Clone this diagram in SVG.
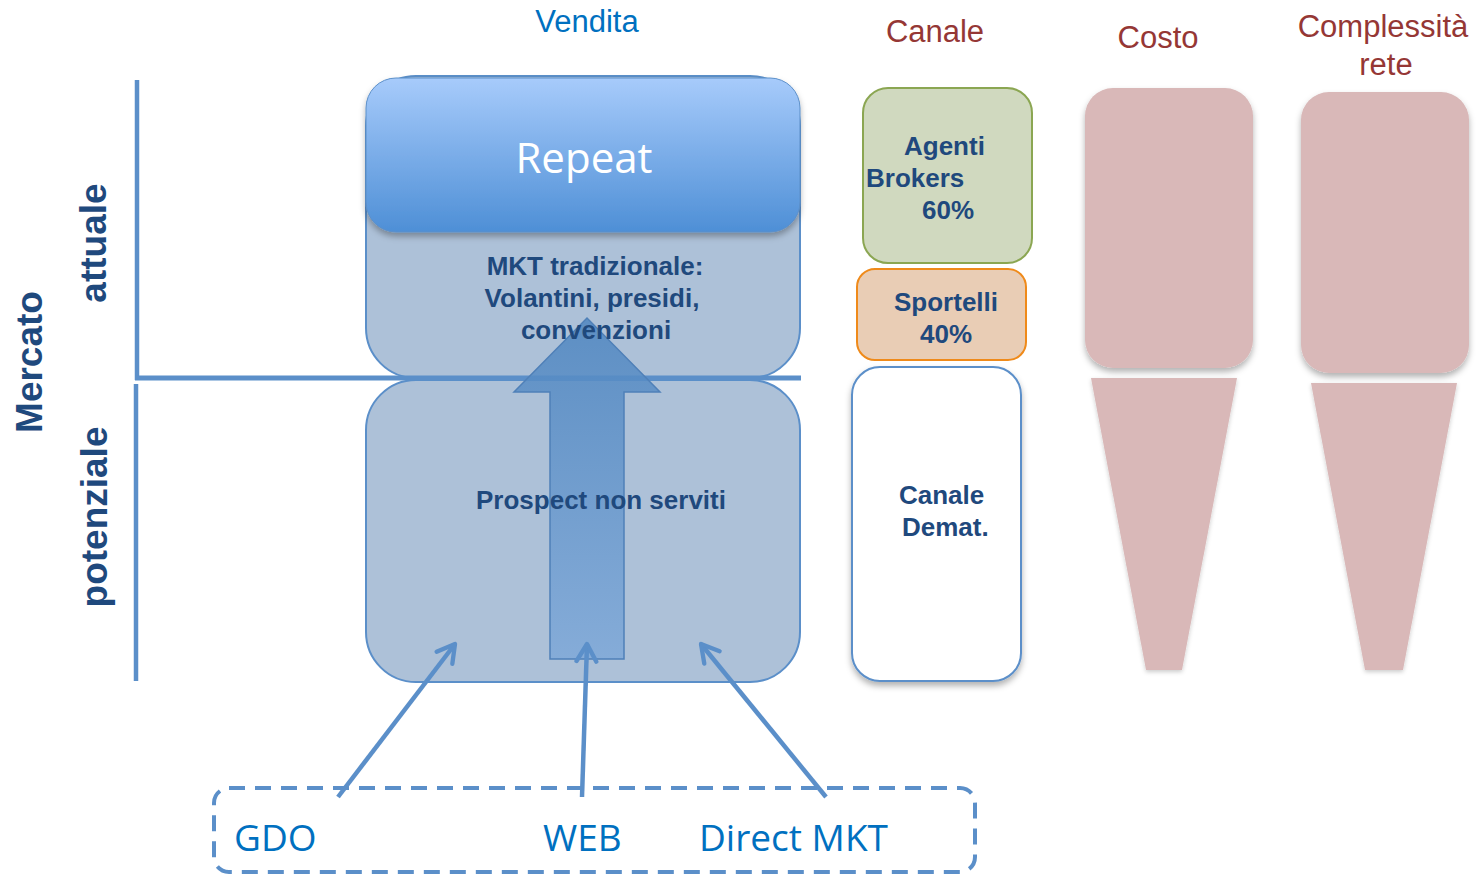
<svg xmlns="http://www.w3.org/2000/svg" width="1476" height="876" viewBox="0 0 1476 876">
<defs>
<linearGradient id="gRepeat" x1="0" y1="0" x2="0" y2="1">
<stop offset="0" stop-color="#a7cbfb"/>
<stop offset="1" stop-color="#4e8fd6"/>
</linearGradient>
<linearGradient id="gArrow" x1="0" y1="0" x2="0" y2="1">
<stop offset="0" stop-color="#4f86c0"/>
<stop offset="1" stop-color="#7ea8d8"/>
</linearGradient>
<filter id="sh" x="-20%" y="-20%" width="140%" height="140%">
<feDropShadow dx="0" dy="4" stdDeviation="3" flood-color="#000" flood-opacity="0.3"/>
</filter>
<filter id="shs" x="-20%" y="-20%" width="140%" height="140%">
<feDropShadow dx="0" dy="2" stdDeviation="2" flood-color="#000" flood-opacity="0.2"/>
</filter>
<marker id="ah" viewBox="0 0 20 20" refX="17" refY="10" markerWidth="5.5" markerHeight="5.5" orient="auto" markerUnits="strokeWidth">
<path d="M3,2 L17,10 L3,18" fill="none" stroke="#5b8fc9" stroke-width="3.5" stroke-linecap="round" stroke-linejoin="round"/>
</marker>
</defs>
<style>
.bold{font-family:"Liberation Sans",Arial,sans-serif;font-weight:bold;fill:#1f497d;font-size:26px}
.head{font-family:"Liberation Sans",Arial,sans-serif;font-size:31px}
.cal{font-family:"Open Sans",sans-serif;fill:#0070c0;font-size:37px}
.box{fill:#adc1d8;stroke:#5b8fc9;stroke-width:2}
.pink{fill:#d9b8b8}
.conn{stroke:#5b8fc9;stroke-width:4.5;fill:none}
</style>

<g id="headers">
<text class="head" x="587" y="32" text-anchor="middle" fill="#0070c0">Vendita</text>
<text class="head" x="935" y="42" text-anchor="middle" fill="#953735">Canale</text>
<text class="head" x="1158" y="48" text-anchor="middle" fill="#953735">Costo</text>
<text class="head" x="1383" y="37" text-anchor="middle" fill="#953735">Complessità</text>
<text class="head" x="1386" y="75" text-anchor="middle" fill="#953735">rete</text>
</g>

<g id="axis-labels">
<text class="bold" style="font-size:37px" transform="translate(42,362) rotate(-90)" text-anchor="middle">Mercato</text>
<text class="bold" style="font-size:37px" transform="translate(106,243) rotate(-90)" text-anchor="middle">attuale</text>
<text class="bold" style="font-size:37px" transform="translate(107,517) rotate(-90)" text-anchor="middle">potenziale</text>
</g>

<g id="mercato-attuale">
<rect class="box" x="366" y="76" width="434" height="302" rx="50"/>
</g>

<g id="mercato-potenziale">
<rect class="box" x="366" y="380" width="434" height="302" rx="50"/>
</g>

<g id="repeat">
<rect x="366" y="78" width="434" height="154" rx="30" fill="url(#gRepeat)" stroke="#5b8fc9" stroke-width="1" filter="url(#sh)"/>
<text x="584" y="173" text-anchor="middle" font-family="Open Sans, sans-serif" font-size="42" fill="#ffffff">Repeat</text>
</g>

<g id="axes">
<line x1="137" y1="80" x2="137" y2="380" stroke="#5b8fc9" stroke-width="4.5"/>
<line x1="136" y1="384" x2="136" y2="681" stroke="#5b8fc9" stroke-width="4.5"/>
<line x1="135" y1="378" x2="801" y2="378" stroke="#5b8fc9" stroke-width="5"/>
</g>

<g id="big-arrow">
<path d="M550,659 L550,392 L514,392 L587,318 L660,392 L624,392 L624,659 Z" fill="url(#gArrow)" fill-opacity="0.85" stroke="#4f80b8" stroke-width="1.5"/>
</g>

<g id="mercato-labels">
<text class="bold" x="595" y="275" text-anchor="middle">MKT tradizionale:</text>
<text class="bold" x="592" y="307" text-anchor="middle">Volantini, presidi,</text>
<text class="bold" x="596" y="339" text-anchor="middle">convenzioni</text>
<text class="bold" x="601" y="509" text-anchor="middle">Prospect non serviti</text>
</g>

<g id="agenti">
<rect x="863" y="88" width="169" height="175" rx="25" fill="#d0d9bf" stroke="#8ba652" stroke-width="2"/>
<text class="bold" x="904" y="155">Agenti</text>
<text class="bold" x="866" y="187">Brokers</text>
<text class="bold" x="922" y="219">60%</text>
</g>

<g id="sportelli">
<rect x="857" y="269" width="169" height="91" rx="18" fill="#e9cdb5" stroke="#ef8a1a" stroke-width="2"/>
<text class="bold" x="894" y="311">Sportelli</text>
<text class="bold" x="920" y="343">40%</text>
</g>

<g id="canale-demat">
<rect x="852" y="367" width="169" height="314" rx="28" fill="#ffffff" stroke="#5b8fc9" stroke-width="2" filter="url(#sh)"/>
<text class="bold" x="899" y="504">Canale</text>
<text class="bold" x="902" y="536">Demat.</text>
</g>

<g id="costo">
<rect class="pink" x="1085" y="88" width="168" height="280" rx="28" filter="url(#sh)"/>
<polygon class="pink" points="1091,378 1237,378 1182,670 1146,670" filter="url(#shs)"/>
</g>

<g id="complessita">
<rect class="pink" x="1301" y="92" width="168" height="281" rx="28" filter="url(#sh)"/>
<polygon class="pink" points="1311,383 1457,383 1403,670 1365,670" filter="url(#shs)"/>
</g>

<g id="connectors">
<line class="conn" x1="338" y1="797" x2="455" y2="644" marker-end="url(#ah)"/>
<line class="conn" x1="582" y1="797" x2="587" y2="644" marker-end="url(#ah)"/>
<line class="conn" x1="826" y1="797" x2="701" y2="644" marker-end="url(#ah)"/>
</g>

<g id="sources">
<rect x="214" y="788" width="761" height="84" rx="15" fill="none" stroke="#5b8fc9" stroke-width="4" stroke-dasharray="16 10"/>
<text class="cal" x="234" y="851">GDO</text>
<text class="cal" x="543" y="851">WEB</text>
<text class="cal" x="699" y="851">Direct MKT</text>
</g>
</svg>
